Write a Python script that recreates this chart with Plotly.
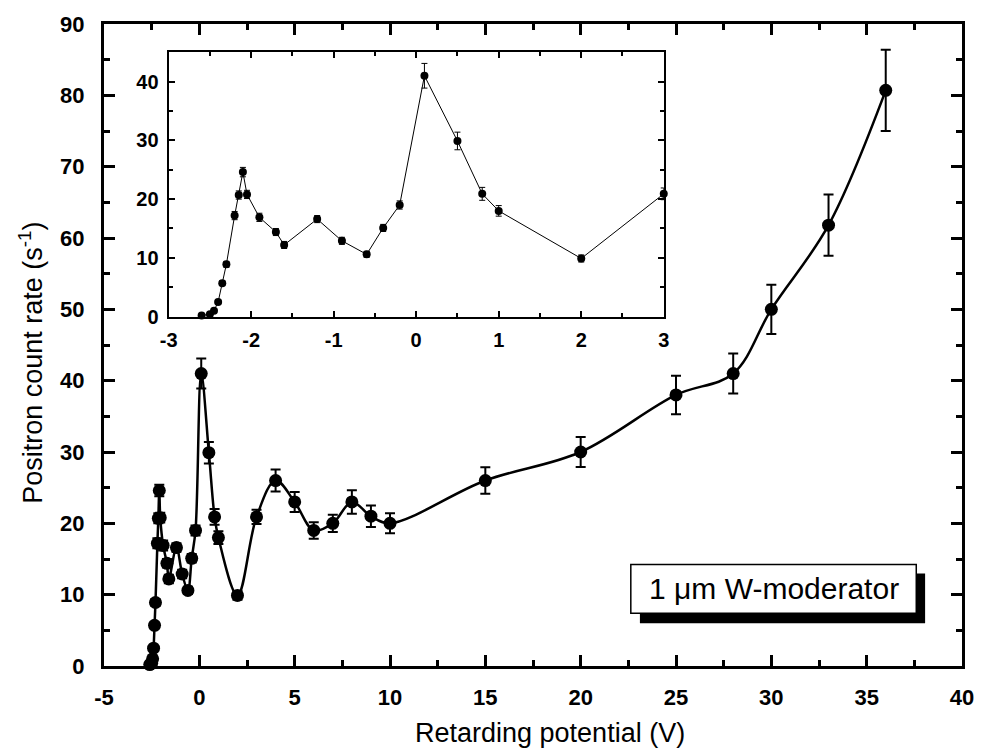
import plotly.graph_objects as go

# ---- data ----
low_x = [-2.6, -2.5, -2.45, -2.4, -2.35, -2.3, -2.2, -2.15, -2.1, -2.05, -1.9, -1.7, -1.6,
         -1.2, -0.9, -0.6, -0.4, -0.2, 0.1, 0.5, 0.8, 1.0, 2.0, 3.0]
low_y = [0.2, 0.4, 1.0, 2.5, 5.7, 8.9, 17.2, 20.7, 24.6, 20.8, 16.9, 14.4, 12.2,
         16.6, 12.9, 10.6, 15.1, 19.0, 41.0, 29.9, 20.9, 18.0, 9.9, 20.9]
low_err = [0.1, 0.1, 0.2, 0.3, 0.4, 0.5, 0.7, 0.7, 0.8, 0.7, 0.7, 0.6, 0.6,
           0.6, 0.6, 0.5, 0.6, 0.7, 2.1, 1.5, 1.1, 0.9, 0.6, 1.0]
high_x = [4, 5, 6, 7, 8, 9, 10, 15, 20, 25, 28, 30, 33, 36]
high_y = [26.0, 23.0, 19.0, 20.0, 23.0, 21.0, 20.0, 26.0, 30.0, 38.0, 41.0, 50.0, 61.8, 80.7]
high_err = [1.55, 1.4, 1.15, 1.2, 1.65, 1.5, 1.4, 1.85, 2.1, 2.7, 2.8, 3.45, 4.3, 5.7]

main_x = low_x + high_x
main_y = low_y + high_y
main_err = low_err + high_err

# tick labels (hyphen-minus as in the original)
main_xticks = [-5, 0, 5, 10, 15, 20, 25, 30, 35, 40]
main_xlabels = ["-5", "0", "5", "10", "15", "20", "25", "30", "35", "40"]
main_yticks = [0, 10, 20, 30, 40, 50, 60, 70, 80, 90]
main_ylabels = ["0", "10", "20", "30", "40", "50", "60", "70", "80", "90"]
inset_xticks = [-3, -2, -1, 0, 1, 2, 3]
inset_xlabels = ["-3", "-2", "-1", "0", "1", "2", "3"]
inset_yticks = [0, 10, 20, 30, 40]
inset_ylabels = ["0", "10", "20", "30", "40"]

label_text = "1 \u03bcm W-moderator"
x_title = "Retarding potential (V)"
y_title = "Positron count rate (s<sup>-1</sup>)"

FONT = "Liberation Sans, Arial, sans-serif"

fig = go.Figure()

fig.add_trace(go.Scatter(
    x=main_x, y=main_y, mode="lines+markers",
    line=dict(color="black", width=2.5, shape="spline", smoothing=1.0),
    marker=dict(color="black", size=13),
    error_y=dict(type="data", array=main_err, color="black", thickness=2, width=5),
    xaxis="x", yaxis="y", showlegend=False, cliponaxis=False,
))

fig.add_trace(go.Scatter(
    x=low_x, y=low_y, mode="lines+markers",
    line=dict(color="black", width=1),
    marker=dict(color="black", size=8),
    error_y=dict(type="data", array=low_err, color="black", thickness=1, width=3),
    xaxis="x2", yaxis="y2", showlegend=False, cliponaxis=False,
))

axis_common = dict(
    showgrid=False, zeroline=False, showline=True, linecolor="black",
    ticks="inside", tickcolor="black", mirror="allticks", tickmode="array",
)

fig.update_layout(
    width=986, height=754,
    margin=dict(l=104, r=19, t=21, b=88),
    paper_bgcolor="white", plot_bgcolor="white",
    font=dict(family=FONT, color="black"),
    xaxis=dict(
        **axis_common, domain=[0, 1], range=[-5, 40],
        tickvals=main_xticks, ticktext=main_xlabels,
        linewidth=3, tickwidth=2.5, ticklen=11,
        minor=dict(dtick=2.5, tick0=0, ticklen=6, tickwidth=2.5, ticks="inside", tickcolor="black"),
        tickfont=dict(size=22, weight="bold", family=FONT), ticklabelstandoff=10,
    ),
    yaxis=dict(
        **axis_common, domain=[0, 1], range=[0, 90],
        tickvals=main_yticks, ticktext=main_ylabels,
        linewidth=3, tickwidth=2.5, ticklen=11,
        minor=dict(dtick=5, tick0=0, ticklen=6, tickwidth=2.5, ticks="inside", tickcolor="black"),
        tickfont=dict(size=22, weight="bold", family=FONT), ticklabelstandoff=12,
    ),
    xaxis2=dict(
        **axis_common, domain=[0.0753, 0.6524], anchor="y2", range=[-3, 3],
        tickvals=inset_xticks, ticktext=inset_xlabels,
        linewidth=2, tickwidth=2, ticklen=6,
        minor=dict(dtick=0.5, tick0=0, ticklen=4, tickwidth=2, ticks="inside", tickcolor="black"),
        tickfont=dict(size=20, weight="bold", family=FONT), ticklabelstandoff=4,
    ),
    yaxis2=dict(
        **axis_common, domain=[0.5442, 0.956], anchor="x2", range=[0, 45],
        tickvals=inset_yticks, ticktext=inset_ylabels,
        linewidth=2, tickwidth=2, ticklen=6,
        minor=dict(dtick=5, tick0=0, ticklen=4, tickwidth=2, ticks="inside", tickcolor="black"),
        tickfont=dict(size=20, weight="bold", family=FONT), ticklabelstandoff=4,
    ),
)

# label box with drop shadow
fig.add_shape(type="rect", xref="paper", yref="paper",
              x0=0.6246, x1=0.957, y0=0.0667, y1=0.1442,
              fillcolor="black", line=dict(width=0), layer="above")
fig.add_shape(type="rect", xref="paper", yref="paper",
              x0=0.614, x1=0.9467, y0=0.0822, y1=0.158,
              fillcolor="white", line=dict(color="black", width=1.5), layer="above")
fig.add_annotation(xref="paper", yref="paper", x=(0.614 + 0.9467) / 2, y=(0.0822 + 0.158) / 2,
                   text=label_text, showarrow=False, xanchor="center", yanchor="middle",
                   font=dict(size=30, family=FONT, color="black"))

# axis titles
fig.add_annotation(xref="paper", yref="paper", x=(553 - 104) / 863, y=(666 - 733) / 645,
                   text=x_title, showarrow=False, xanchor="center", yanchor="middle",
                   font=dict(size=27, family=FONT, color="black"))
fig.add_annotation(xref="paper", yref="paper", x=(31 - 104) / 863, y=(666 - 361) / 645,
                   text=y_title, showarrow=False, xanchor="center", yanchor="middle",
                   textangle=-90, font=dict(size=27, family=FONT, color="black"))

fig.write_html("out.html")
